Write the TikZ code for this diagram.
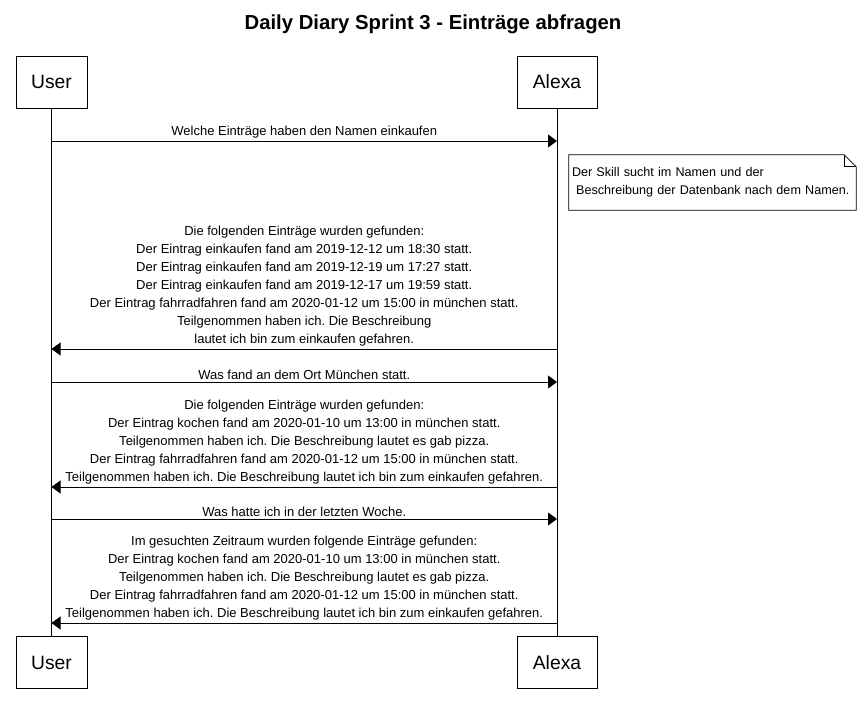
\documentclass[tikz,border=0pt]{standalone}
\usepackage{fontspec}
\setmainfont{Liberation Sans}
\usetikzlibrary{arrows.meta,positioning}
\frenchspacing

\tikzset{
  actor/.style={draw, line width=0.8pt, minimum height=52pt, inner sep=0pt,
    font=\fontsize{19.3}{21}\selectfont},
  msg/.style={line width=0.8pt, -{Triangle[length=9pt,width=13pt]}},
  lbl/.style={align=center, inner sep=0pt, font=\fontsize{13}{18}\selectfont},
  life/.style={line width=0.7pt}
}

\begin{document}
\begin{tikzpicture}[x=1pt,y=-1pt]
 \useasboundingbox (0,0) rectangle (863,714);

 \node[font=\bfseries\fontsize{20.3}{22}\selectfont] (title) at (433,24) {Daily Diary Sprint 3 - Einträge abfragen};

 % participants
 \node[actor, minimum width=71pt] (user) at (51.5,82) {User};
 \node[actor, minimum width=80pt] (alexa) at (557,82) {Alexa};
 \node[actor, minimum width=71pt] (userb) at (51.5,662.5) {User};
 \node[actor, minimum width=80pt] (alexab) at (557,662.5) {Alexa};

 \draw[life] (user.south) -- (userb.north);
 \draw[life] (alexa.south) -- (alexab.north);

 % messages
 \coordinate (u1) at (51.5,141);
 \coordinate (a1) at (557,141);
 \draw[msg] (u1) -- (a1) node[lbl, midway, above=2pt] {Welche Einträge haben den Namen einkaufen};

 % note
 \node[lbl, align=left, font=\fontsize{12.6}{18}\selectfont, minimum height=55pt,
   inner xsep=3pt, text width=281pt] (note) at (712.5,182.5)
   {Der Skill sucht im Namen und der\\ \ Beschreibung der Datenbank nach dem Namen.};
 \draw[line width=0.7pt] (note.north west) -- ([xshift=-12pt]note.north east)
   -- ([yshift=-12pt]note.north east) -- (note.south east) -- (note.south west) -- cycle;
 \draw[line width=0.7pt] ([xshift=-12pt]note.north east) -- ([xshift=-12pt,yshift=-12pt]note.north east)
   -- ([yshift=-12pt]note.north east);

 \coordinate (a2) at (557,349);
 \coordinate (u2) at (51.5,349);
 \draw[msg] (a2) -- (u2) node[lbl, midway, above=2pt] {Die folgenden Einträge wurden gefunden:\\
   Der Eintrag einkaufen fand am 2019-12-12 um 18:30 statt.\\
   Der Eintrag einkaufen fand am 2019-12-19 um 17:27 statt.\\
   Der Eintrag einkaufen fand am 2019-12-17 um 19:59 statt.\\
   Der Eintrag fahrradfahren fand am 2020-01-12 um 15:00 in münchen statt.\\
   Teilgenommen haben ich. Die Beschreibung\\
   lautet ich bin zum einkaufen gefahren.};

 \coordinate (u3) at (51.5,382);
 \coordinate (a3) at (557,382);
 \draw[msg] (u3) -- (a3) node[lbl, midway, above=2pt] {Was fand an dem Ort München statt.};

 \coordinate (a4) at (557,487);
 \coordinate (u4) at (51.5,487);
 \draw[msg] (a4) -- (u4) node[lbl, midway, above=2pt] {Die folgenden Einträge wurden gefunden:\\
   Der Eintrag kochen fand am 2020-01-10 um 13:00 in münchen statt.\\
   Teilgenommen haben ich. Die Beschreibung lautet es gab pizza.\\
   Der Eintrag fahrradfahren fand am 2020-01-12 um 15:00 in münchen statt.\\
   Teilgenommen haben ich. Die Beschreibung lautet ich bin zum einkaufen gefahren.};

 \coordinate (u5) at (51.5,519);
 \coordinate (a5) at (557,519);
 \draw[msg] (u5) -- (a5) node[lbl, midway, above=2pt] {Was hatte ich in der letzten Woche.};

 \coordinate (a6) at (557,623);
 \coordinate (u6) at (51.5,623);
 \draw[msg] (a6) -- (u6) node[lbl, midway, above=2pt] {Im gesuchten Zeitraum wurden folgende Einträge gefunden:\\
   Der Eintrag kochen fand am 2020-01-10 um 13:00 in münchen statt.\\
   Teilgenommen haben ich. Die Beschreibung lautet es gab pizza.\\
   Der Eintrag fahrradfahren fand am 2020-01-12 um 15:00 in münchen statt.\\
   Teilgenommen haben ich. Die Beschreibung lautet ich bin zum einkaufen gefahren.};
\end{tikzpicture}
\end{document}
